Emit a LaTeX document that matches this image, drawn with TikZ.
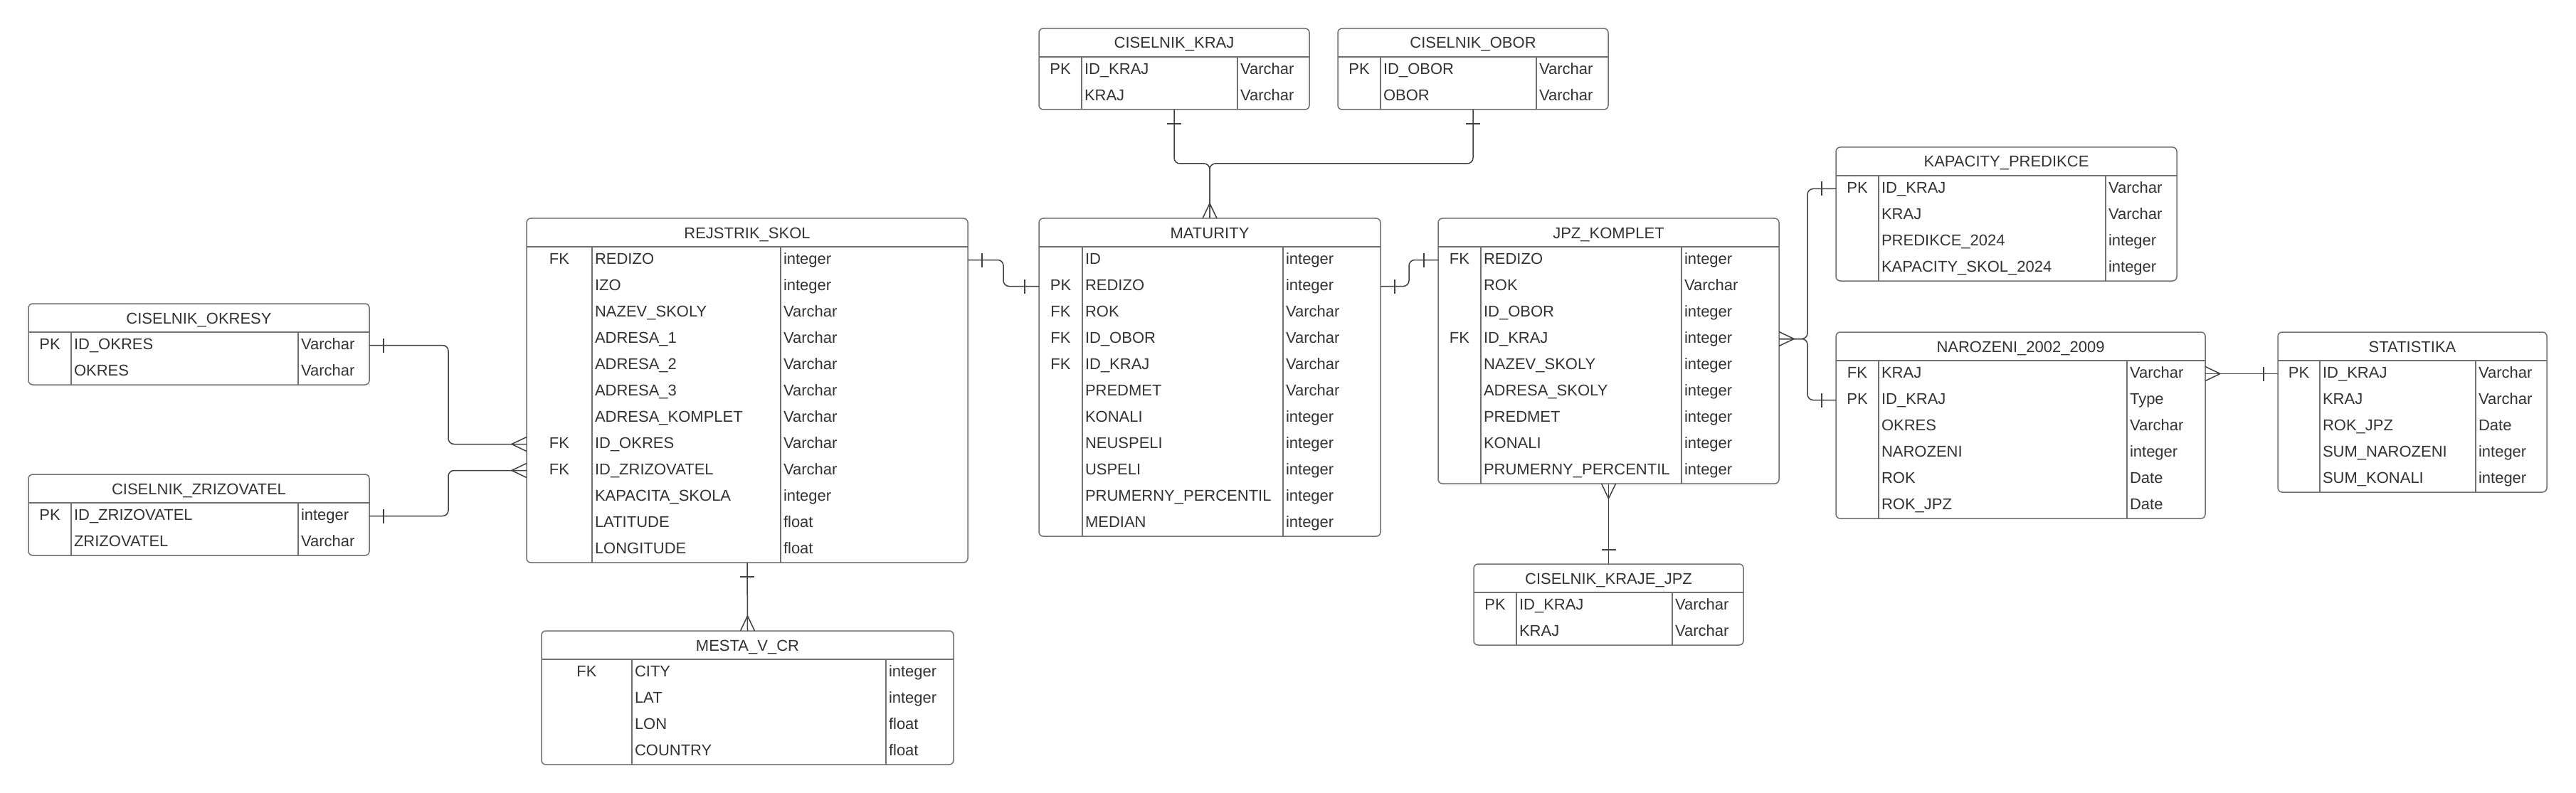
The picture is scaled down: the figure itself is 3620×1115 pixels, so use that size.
\documentclass[tikz,border=0pt]{standalone}
\usepackage{fontspec}
\setmainfont{Liberation Sans}
\usetikzlibrary{calc}
\definecolor{txtcol}{HTML}{333333}
\definecolor{boxcol}{HTML}{707070}
\definecolor{lncol}{HTML}{404040}
\tikzset{
 tbox/.style={draw=boxcol, line width=1.5pt, rounded corners=6pt, inner sep=0pt, outer sep=0pt},
 tline/.style={draw=boxcol, line width=1.5pt},
 conn/.style={draw=lncol, line width=1.5pt, rounded corners=8pt},
 txt/.style={font=\fontsize{22}{26}\selectfont, text=txtcol, inner sep=0pt, outer sep=0pt},
}
% #1 id, #2 left, #3 top, #4 right, #5 rows, #6 divider1, #7 divider2, #8 title, #9 rows
\newcommand\ertab[9]{%
 \pgfmathsetmacro\hb{#3+40}%
 \pgfmathsetmacro\btm{#3+40+37*#5}%
 \pgfmathsetmacro\bw{#4-#2}%
 \pgfmathsetmacro\bhh{\btm-#3}%
 \node[tbox, minimum width=\bw pt, minimum height=\bhh pt] (#1) at ({(#2+#4)/2},{(#3+\btm)/2}) {};
 \draw[tline] (#2,\hb) -- (#4,\hb) (#6,\hb) -- (#6,\btm) (#7,\hb) -- (#7,\btm);
 \node[txt, anchor=base] (#1-t) at ({(#2+#4)/2},{(#3+\hb)/2+8}) {#8};
 \foreach \ka/\na/\ty [count=\ri] in {#9} {
   \pgfmathsetmacro\yc{\hb+18.5+37*(\ri-1)}
   \coordinate (#1-r\ri) at (#2,\yc);
   \node[txt, anchor=base] (#1-k\ri) at ({(#2+#6)/2},{\yc+6}) {\ka};
   \node[txt, anchor=base west] (#1-n\ri) at ({#6+4},{\yc+6}) {\na};
   \node[txt, anchor=base west] (#1-y\ri) at ({#7+4},{\yc+6}) {\ty};
 }
}
% crow's foot at point #1, direction (#2,#3) pointing away from the box
\newcommand\crow[3]{%
 \draw[conn] ($(#1)+({(#2)*21},{(#3)*21})$) -- ($(#1)+({(#3)*10},{(#2)*10})$)
             ($(#1)+({(#2)*21},{(#3)*21})$) -- ($(#1)+({-(#3)*10},{-(#2)*10})$);}
% single bar at point #1, direction (#2,#3)
\newcommand\tickbar[3]{%
 \draw[conn] ($(#1)+({(#2)*20-(#3)*10},{(#3)*20-(#2)*10})$) -- ($(#1)+({(#2)*20+(#3)*10},{(#3)*20+(#2)*10})$);}

\begin{document}
\begin{tikzpicture}[x=1pt,y=-1pt]
\fill[white] (0,0) rectangle (3620,1115);
\useasboundingbox (0,0) rectangle (3620,1115);

\ertab{ck}{1460}{40}{1840}{2}{1520}{1739}{CISELNIK\_KRAJ}{PK/ID\_KRAJ/Varchar, {}/KRAJ/Varchar}
\ertab{co}{1880}{40}{2260}{2}{1940}{2159}{CISELNIK\_OBOR}{PK/ID\_OBOR/Varchar, {}/OBOR/Varchar}
\ertab{mat}{1460}{307}{1940}{11}{1521}{1803}{MATURITY}{{}/ID/integer, PK/REDIZO/integer, FK/ROK/Varchar, FK/ID\_OBOR/Varchar, FK/ID\_KRAJ/Varchar, {}/PREDMET/Varchar, {}/KONALI/integer, {}/NEUSPELI/integer, {}/USPELI/integer, {}/PRUMERNY\_PERCENTIL/integer, {}/MEDIAN/integer}
\ertab{rej}{740}{307}{1360}{12}{832}{1097}{REJSTRIK\_SKOL}{FK/REDIZO/integer, {}/IZO/integer, {}/NAZEV\_SKOLY/Varchar, {}/ADRESA\_1/Varchar, {}/ADRESA\_2/Varchar, {}/ADRESA\_3/Varchar, {}/ADRESA\_KOMPLET/Varchar, FK/ID\_OKRES/Varchar, FK/ID\_ZRIZOVATEL/Varchar, {}/KAPACITA\_SKOLA/integer, {}/LATITUDE/float, {}/LONGITUDE/float}
\ertab{jpz}{2021}{307}{2500}{9}{2081}{2363}{JPZ\_KOMPLET}{FK/REDIZO/integer, {}/ROK/Varchar, {}/ID\_OBOR/integer, FK/ID\_KRAJ/integer, {}/NAZEV\_SKOLY/integer, {}/ADRESA\_SKOLY/integer, {}/PREDMET/integer, {}/KONALI/integer, {}/PRUMERNY\_PERCENTIL/integer}
\ertab{okr}{40}{427}{519}{2}{100}{419}{CISELNIK\_OKRESY}{PK/ID\_OKRES/Varchar, {}/OKRES/Varchar}
\ertab{zri}{40}{667}{519}{2}{100}{419}{CISELNIK\_ZRIZOVATEL}{PK/ID\_ZRIZOVATEL/integer, {}/ZRIZOVATEL/Varchar}
\ertab{mes}{761}{887}{1340}{4}{888}{1245}{MESTA\_V\_CR}{FK/CITY/integer, {}/LAT/integer, {}/LON/float, {}/COUNTRY/float}
\ertab{kap}{2580}{207}{3059}{4}{2640}{2959}{KAPACITY\_PREDIKCE}{PK/ID\_KRAJ/Varchar, {}/KRAJ/Varchar, {}/PREDIKCE\_2024/integer, {}/KAPACITY\_SKOL\_2024/integer}
\ertab{nar}{2580}{467}{3099}{6}{2640}{2989}{NAROZENI\_2002\_2009}{FK/KRAJ/Varchar, PK/ID\_KRAJ/Type, {}/OKRES/Varchar, {}/NAROZENI/integer, {}/ROK/Date, {}/ROK\_JPZ/Date}
\ertab{sta}{3201}{467}{3579}{5}{3260}{3479}{STATISTIKA}{PK/ID\_KRAJ/Varchar, {}/KRAJ/Varchar, {}/ROK\_JPZ/Date, {}/SUM\_NAROZENI/integer, {}/SUM\_KONALI/integer}
\ertab{ckj}{2071}{793}{2450}{2}{2131}{2350}{CISELNIK\_KRAJE\_JPZ}{PK/ID\_KRAJ/Varchar, {}/KRAJ/Varchar}

% CISELNIK_KRAJ / CISELNIK_OBOR -> MATURITY
\coordinate (kj) at ($(mat.north)+(0,-77)$);
\draw[conn] (ck.south) |- (kj) -- (mat.north);
\draw[conn] (co.south) |- (kj) -- (mat.north);
\tickbar{ck.south}{0}{1}
\tickbar{co.south}{0}{1}
\crow{mat.north}{0}{-1}

% REJSTRIK_SKOL -> MATURITY
\coordinate (b1) at (rej.east |- rej-r1);
\coordinate (b2) at (mat.west |- mat-r2);
\draw[conn] (b1) -- ++(50,0) |- (b2);
\tickbar{b1}{1}{0}
\tickbar{b2}{-1}{0}

% MATURITY -> JPZ_KOMPLET
\coordinate (c1) at (mat.east |- mat-r2);
\coordinate (c2) at (jpz.west |- jpz-r1);
\draw[conn] (c1) -- ++(40,0) |- (c2);
\tickbar{c1}{1}{0}
\tickbar{c2}{-1}{0}

% CISELNIK_OKRESY -> REJSTRIK_SKOL
\coordinate (d1) at (okr.east |- okr-r1);
\coordinate (d2) at (rej.west |- rej-r8);
\draw[conn] (d1) -- ++(111,0) |- (d2);
\tickbar{d1}{1}{0}
\crow{d2}{-1}{0}

% CISELNIK_ZRIZOVATEL -> REJSTRIK_SKOL
\coordinate (e1) at (zri.east |- zri-r1);
\coordinate (e2) at (rej.west |- rej-r9);
\draw[conn] (e1) -- ++(111,0) |- (e2);
\tickbar{e1}{1}{0}
\crow{e2}{-1}{0}

% REJSTRIK_SKOL -> MESTA_V_CR
\draw[conn] (rej.south) -- (mes.north);
\tickbar{rej.south}{0}{1}
\crow{mes.north}{0}{-1}

% JPZ_KOMPLET -> CISELNIK_KRAJE_JPZ
\draw[conn] (jpz.south) -- (ckj.north);
\crow{jpz.south}{0}{1}
\tickbar{ckj.north}{0}{-1}

% JPZ_KOMPLET -> KAPACITY_PREDIKCE / NAROZENI
\coordinate (h1) at (jpz.east |- jpz-r4);
\coordinate (h2) at (kap.west |- kap-r1);
\coordinate (h3) at (nar.west |- nar-r2);
\draw[conn] (h1) -- ++(40,0) |- (h2);
\draw[conn] (h1) -- ++(40,0) |- (h3);
\crow{h1}{1}{0}
\tickbar{h2}{-1}{0}
\tickbar{h3}{-1}{0}

% NAROZENI -> STATISTIKA
\coordinate (i1) at (nar.east |- nar-r1);
\coordinate (i2) at (sta.west |- sta-r1);
\draw[conn] (i1) -- (i2);
\crow{i1}{1}{0}
\tickbar{i2}{-1}{0}
\end{tikzpicture}
\end{document}
